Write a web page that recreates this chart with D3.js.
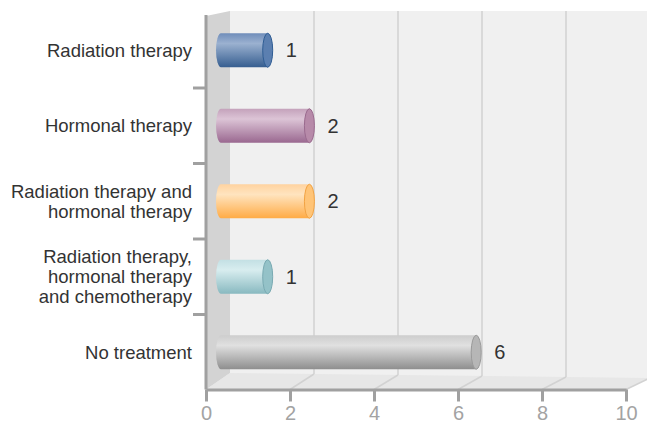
<!DOCTYPE html>
<html>
<head>
<meta charset="utf-8">
<script src="https://cdn.jsdelivr.net/npm/d3@7"></script>
<style>
  html, body { margin: 0; padding: 0; background: #ffffff; }
  svg { display: block; font-family: "Liberation Sans", Arial, sans-serif; }
</style>
</head>
<body>
<svg id="chart" width="647" height="424"></svg>
<script>
// Treatment categories (top to bottom) and patient counts
const categories = [
  "Radiation therapy",
  "Hormonal therapy",
  "Radiation therapy and hormonal therapy",
  "Radiation therapy, hormonal therapy and chemotherapy",
  "No treatment"
];
const labelLines = [
  ["Radiation therapy"],
  ["Hormonal therapy"],
  ["Radiation therapy and", "hormonal therapy"],
  ["Radiation therapy,", "hormonal therapy", "and chemotherapy"],
  ["No treatment"]
];
const counts = [1, 2, 2, 1, 6];
const xTicks = [0, 2, 4, 6, 8, 10];

// Cylinder colours: [top, highlight, bottom, cap, cap outline]
const palette = [
  ["#6f8dba", "#9bb1d0", "#365e90", "#5b7fb0", "#2f5d94"],
  ["#c4a2bb", "#dcc4d6", "#9a6890", "#b78aa9", "#9a6a8e"],
  ["#ffd3a0", "#ffe4bf", "#ffab45", "#ffc477", "#f2a343"],
  ["#c3e0e4", "#d8edef", "#88b9c0", "#94c2c8", "#79aab2"],
  ["#cdcdcd", "#e0e0e0", "#8e8e8e", "#b6b6b6", "#9a9a9a"]
];

const svg = d3.select("#chart");

// Front plane scales
const x = d3.scaleLinear().domain([0, 10]).range([206, 626]);
const y = d3.scaleBand().domain(categories).range([12.5, 390]).paddingInner(0).paddingOuter(0);
// Bars sit at mid depth inside the box
const xBar = d3.scaleLinear().domain([0, 10]).range([226, 643]);

const depthX = 24;
const backTop = 11;
const backBottom = v => 373 + (x(v) + depthX - 230) * 5 / 420;
const axisY = 389.5;

// Back wall
svg.append("rect")
  .attr("x", x(0) + depthX).attr("y", backTop)
  .attr("width", 647 - (x(0) + depthX)).attr("height", 380 - backTop)
  .attr("fill", "#f0f0f0");

// Floor
svg.append("path")
  .attr("d", `M${x(0)},${axisY} L${x(0) + depthX},${backBottom(0)} L${x(10) + depthX},${backBottom(10)} L${x(10)},${axisY} Z`)
  .attr("fill", "#e7e7e7");

// Left side wall
svg.append("path")
  .attr("d", `M${x(0)},16 L${x(0) + depthX},${backTop} L${x(0) + depthX},${backBottom(0)} L${x(0)},${axisY} Z`)
  .attr("fill", "#d3d3d3");

// Gridlines on the back wall and across the floor
const grid = svg.append("g").attr("stroke", "#d2d2d2").attr("stroke-width", 1.5).attr("fill", "none");
xTicks.filter(v => v > 0).forEach(v => {
  grid.append("line")
    .attr("x1", x(v) + depthX).attr("x2", x(v) + depthX)
    .attr("y1", backTop).attr("y2", backBottom(v));
  grid.append("line")
    .attr("x1", x(v)).attr("y1", axisY)
    .attr("x2", x(v) + depthX).attr("y2", backBottom(v));
});

// Cylinder gradients
const defs = svg.append("defs");
palette.forEach((c, i) => {
  const g = defs.append("linearGradient")
    .attr("id", "cyl" + i).attr("x1", 0).attr("y1", 0).attr("x2", 0).attr("y2", 1);
  g.append("stop").attr("offset", "0%").attr("stop-color", c[0]);
  g.append("stop").attr("offset", "30%").attr("stop-color", c[1]);
  g.append("stop").attr("offset", "100%").attr("stop-color", c[2]);
});

// Bars
const barH = 34;
const rx = 5;
const bars = svg.append("g");
categories.forEach((cat, i) => {
  const cy = y(cat) + y.bandwidth() / 2;
  const top = cy - barH / 2, bot = cy + barH / 2;
  const left = xBar(0) - 5;
  const right = xBar(counts[i]);
  bars.append("path")
    .attr("d", `M${left},${top} L${right},${top} L${right},${bot} L${left},${bot} A${rx},${barH / 2} 0 0 1 ${left},${top} Z`)
    .attr("fill", `url(#cyl${i})`);
  bars.append("ellipse")
    .attr("cx", right).attr("cy", cy)
    .attr("rx", rx).attr("ry", barH / 2)
    .attr("fill", palette[i][3])
    .attr("stroke", palette[i][4]).attr("stroke-width", 1);
  // Value label
  svg.append("text")
    .attr("x", right + 18).attr("y", cy + 7)
    .attr("font-size", 20).attr("fill", "#333333")
    .text(counts[i]);
});

// X axis
const xAxis = svg.append("g")
  .attr("transform", `translate(0,${axisY})`)
  .call(d3.axisBottom(x).tickValues(xTicks).tickSize(12).tickSizeOuter(0).tickPadding(4));
xAxis.select(".domain").attr("stroke", "#a0a0a0").attr("stroke-width", 3);
xAxis.selectAll(".tick line").attr("stroke", "#a0a0a0").attr("stroke-width", 3);
xAxis.selectAll(".tick text")
  .attr("font-size", 20).attr("fill", "#a3a3a3")
  .attr("font-family", "'Liberation Sans', Arial, sans-serif");

// Category axis line and boundary ticks
const catAxis = svg.append("g").attr("stroke", "#a0a0a0").attr("stroke-width", 3);
catAxis.append("line")
  .attr("x1", x(0)).attr("x2", x(0))
  .attr("y1", 15).attr("y2", axisY);
categories.slice(1).forEach(cat => {
  catAxis.append("line")
    .attr("x1", 193).attr("x2", x(0))
    .attr("y1", y(cat)).attr("y2", y(cat));
});

// Category labels
const lineH = 20;
categories.forEach((cat, i) => {
  const cy = y(cat) + y.bandwidth() / 2;
  const lines = labelLines[i];
  const t = svg.append("text")
    .attr("text-anchor", "end")
    .attr("font-size", 18.5)
    .attr("fill", "#333333");
  lines.forEach((ln, k) => {
    t.append("tspan")
      .attr("x", 192)
      .attr("y", cy + 6.5 + (k - (lines.length - 1) / 2) * lineH)
      .text(ln);
  });
});
</script>
</body>
</html>
